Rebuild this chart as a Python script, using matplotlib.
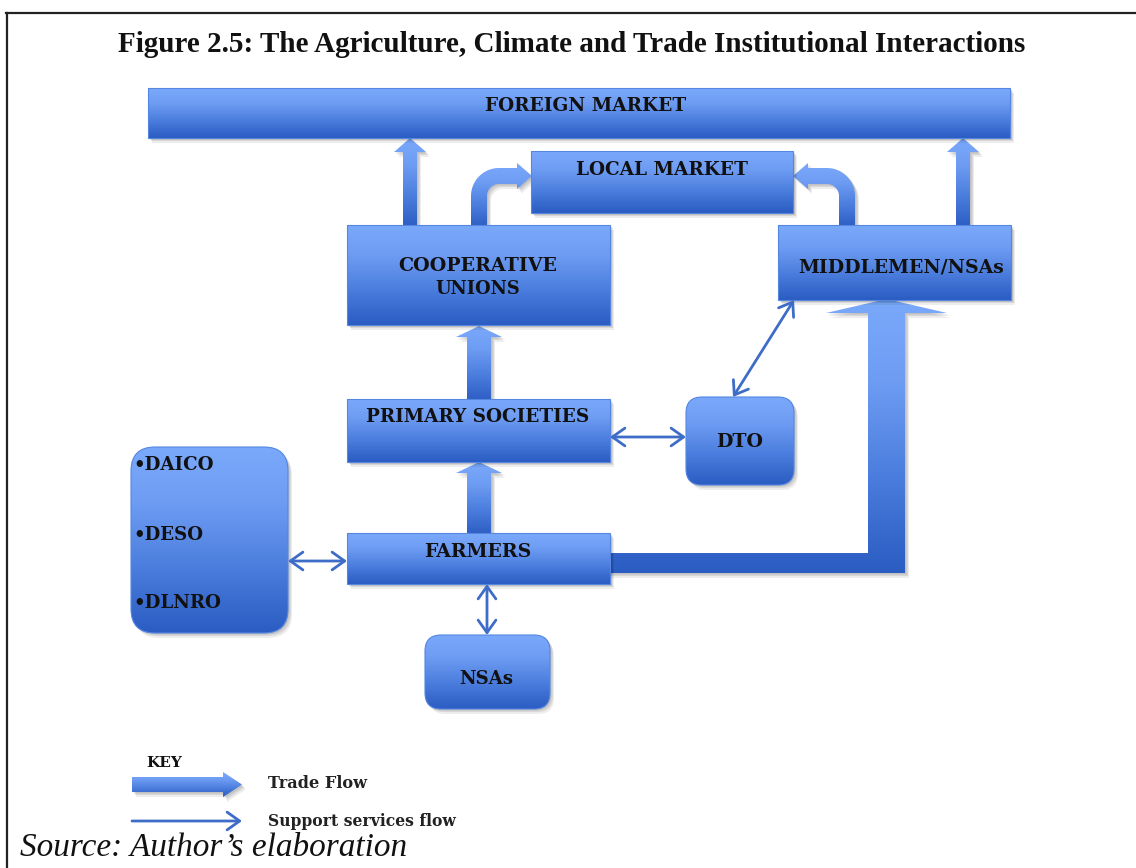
import numpy as np
import matplotlib
matplotlib.use("Agg")
import matplotlib.pyplot as plt
from matplotlib.patches import Polygon, FancyBboxPatch, FancyArrowPatch
from matplotlib.colors import LinearSegmentedColormap

# ---- content ----
title = "Figure 2.5: The Agriculture, Climate and Trade Institutional Interactions"
box_labels = ["FOREIGN MARKET", "LOCAL MARKET", "COOPERATIVE", "UNIONS", "MIDDLEMEN/NSAs",
              "PRIMARY SOCIETIES", "DTO", "FARMERS", "NSAs"]
support_items = ["DAICO", "DESO", "DLNRO"]
key_title = "KEY"
key_labels = ["Trade Flow", "Support services flow"]
source = "Source: Author\u2019s elaboration"

# ---- canvas in pixel coordinates ----
W, H = 1136, 868
fig = plt.figure(figsize=(W / 100, H / 100), dpi=100)
ax = fig.add_axes([0, 0, 1, 1])
ax.set_xlim(0, W)
ax.set_ylim(H, 0)
ax.axis("off")
renderer = fig.canvas.get_renderer()

cmap = LinearSegmentedColormap.from_list(
    "g", [(0.0, "#7aa9fb"), (0.3, "#6e9cf3"), (0.65, "#4a7ddd"), (1.0, "#2b5cc2")])
grad = np.linspace(0, 1, 256).reshape(-1, 1)
SHADOW = [(4, 5, 0.07), (3, 3, 0.09), (1.5, 1.5, 0.10)]


def grad_fill(patch, x0, y0, x1, y1, z):
    ax.add_patch(patch)
    im = ax.imshow(grad, cmap=cmap, extent=(x0, x1, y1, y0), aspect="auto",
                   zorder=z, interpolation="bilinear")
    im.set_clip_path(patch)


def box(x0, y0, x1, y1, r=0, z=3):
    style = f"round,pad=0,rounding_size={r}" if r else "square,pad=0"
    for dx, dy, a in SHADOW:
        ax.add_patch(FancyBboxPatch((x0 + dx, y0 + dy), x1 - x0, y1 - y0, boxstyle=style,
                                    fc=(0, 0, 0, a), ec="none", zorder=z - 0.5))
    p = FancyBboxPatch((x0, y0), x1 - x0, y1 - y0, boxstyle=style, fc="none",
                       ec="none", zorder=z)
    grad_fill(p, x0, y0, x1, y1, z)
    ax.add_patch(FancyBboxPatch((x0, y0), x1 - x0, y1 - y0, boxstyle=style, fc="none",
                                ec="#5586e2", lw=0.8, zorder=z + 0.1))


def poly(pts, z=2):
    pts = np.asarray(pts, float)
    for dx, dy, a in SHADOW:
        ax.add_patch(Polygon(pts + [dx, dy], closed=True, fc=(0, 0, 0, a), ec="none",
                             zorder=z - 0.5))
    p = Polygon(pts, closed=True, fc="none", ec="none", zorder=z)
    grad_fill(p, pts[:, 0].min(), pts[:, 1].min(), pts[:, 0].max(), pts[:, 1].max(), z)


def up_arrow(xc, ybot, ytip, sw, hw, hl, z=2):
    poly([(xc - sw / 2, ybot), (xc - sw / 2, ytip + hl), (xc - hw / 2, ytip + hl),
          (xc, ytip), (xc + hw / 2, ytip + hl), (xc + sw / 2, ytip + hl),
          (xc + sw / 2, ybot)], z)


def right_arrow(x0, xtip, yc, sw, hw, hl, z=2):
    poly([(x0, yc - sw / 2), (xtip - hl, yc - sw / 2), (xtip - hl, yc - hw / 2),
          (xtip, yc), (xtip - hl, yc + hw / 2), (xtip - hl, yc + sw / 2),
          (x0, yc + sw / 2)], z)


def curved_arrow(xs, ybot, yh, L, d, w=16, R=20, hl=15, hw=26, z=2):
    t = np.linspace(0, np.pi / 2, 30)
    Ro, Ri = R + w / 2, R - w / 2
    pts = [(-w / 2, ybot), (-w / 2, yh + R)]
    pts += [(R - Ro * np.cos(a), yh + R - Ro * np.sin(a)) for a in t]
    pts += [(L - hl, yh - w / 2), (L - hl, yh - hw / 2), (L, yh),
            (L - hl, yh + hw / 2), (L - hl, yh + w / 2)]
    pts += [(R - Ri * np.cos(a), yh + R - Ri * np.sin(a)) for a in t[::-1]]
    pts += [(w / 2, ybot)]
    poly([(xs + d * px, py) for px, py in pts], z)


def support(p1, p2, style="<->"):
    ax.add_patch(FancyArrowPatch(p1, p2, arrowstyle=f"{style},head_length=0.45,head_width=0.32",
                                 mutation_scale=20, color="#3e6dc8", lw=2.0,
                                 shrinkA=0, shrinkB=0, zorder=6))


def fit_text(x, y, s, width, ha="center", va="center", **kw):
    t = ax.text(x, y, s, fontsize=10, ha=ha, va=va, **kw)
    w = t.get_window_extent(renderer).width
    t.set_fontsize(10 * width / w)
    return t


LBL = dict(family="DejaVu Serif", weight="bold", color="#111111", zorder=8)

# ---- frame ----
ax.plot([6, W], [13, 13], color="#222222", lw=1.6, zorder=1)
ax.plot([7, 7], [13, H], color="#222222", lw=1.6, zorder=1)

# ---- title ----
fit_text(572, 45, title, 911, family="Liberation Serif", weight="bold", color="#111111")

# ---- trade-flow arrows (behind boxes) ----
up_arrow(410, 228, 138, 14, 32, 14)
up_arrow(963, 228, 138, 14, 32, 14)
curved_arrow(479, 228, 176, 53, +1)
curved_arrow(847, 228, 176, 54, -1)
up_arrow(479, 402, 326, 24, 46, 11)
up_arrow(479, 536, 462, 24, 46, 11)
poly([(605, 553), (868, 553), (868, 313), (826, 313), (886.5, 299), (947, 313),
      (905, 313), (905, 573), (605, 573)])

# ---- boxes ----
box(148, 88, 1010, 138)
box(531, 151, 793, 213)
box(347, 225, 610, 325)
box(778, 225, 1011, 300)
box(347, 399, 610, 462)
box(686, 397, 794, 485, r=16)
box(131, 447, 288, 633, r=24)
box(347, 533, 610, 584)
box(425, 635, 550, 709, r=16)

# ---- box labels ----
fit_text(586, 106, box_labels[0], 201, **LBL)
fit_text(662, 170, box_labels[1], 172, **LBL)
fit_text(478, 266, box_labels[2], 159, **LBL)
fit_text(478, 289, box_labels[3], 85, **LBL)
fit_text(901, 267, box_labels[4], 206, **LBL)
fit_text(478, 417, box_labels[5], 223, **LBL)
fit_text(740, 442, box_labels[6], 47, **LBL)
fit_text(478, 552, box_labels[7], 107, **LBL)
fit_text(486, 679, box_labels[8], 54, **LBL)
for lab, yy, ww in zip(support_items, [465, 535, 603], [81, 70, 88]):
    fit_text(133, yy, "\u2022" + lab, ww, ha="left", **LBL)

# ---- support-service arrows ----
support((610, 437), (686, 437))
support((794, 300), (733, 397))
support((288, 561), (347, 561))
support((487, 584), (487, 635))

# ---- key ----
fit_text(146, 763, key_title, 36, ha="left", **LBL)
right_arrow(132, 242, 784.5, 15, 25, 19)
support((132, 821), (242, 821), style="->")
kw_key = dict(family="DejaVu Serif", weight="bold", color="#222222", zorder=8)
fit_text(268, 783, key_labels[0], 99, ha="left", **kw_key)
fit_text(268, 822, key_labels[1], 188, ha="left", **kw_key)

# ---- source ----
fit_text(20, 848, source, 388, ha="left", family="Liberation Serif", style="italic",
         color="#111111")

ax.set_xlim(0, W)
ax.set_ylim(H, 0)
ax.set_aspect("auto")
fig.savefig("out.png", dpi=100)
